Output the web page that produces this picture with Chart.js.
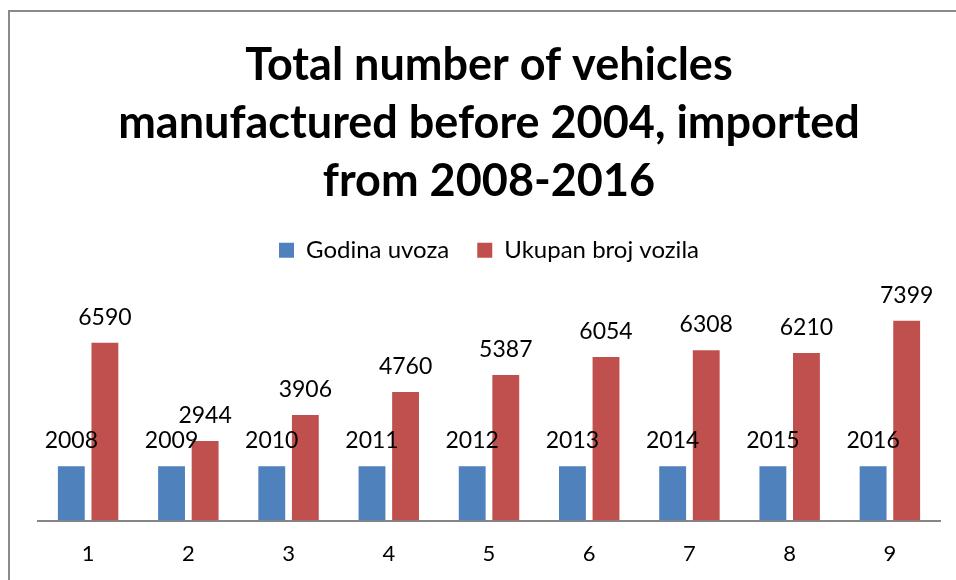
<!DOCTYPE html>
<html>
<head>
<meta charset="utf-8">
<script src="https://cdn.jsdelivr.net/npm/chart.js@4.4.1/dist/chart.umd.min.js"></script>
<style>
  html, body { margin: 0; padding: 0; background: #fff; }
  body { width: 956px; height: 580px; overflow: hidden; position: relative; }
  .frame {
    position: absolute; left: 8px; top: 10px; width: 1000px; height: 640px;
    border-left: 2px solid #8a8a8a; border-top: 2px solid #8a8a8a;
  }
  #wrap { position: absolute; left: 0; top: 0; width: 956px; height: 580px; }
</style>
</head>
<body>
<div class="frame"></div>
<div id="wrap"><canvas id="vehChart"></canvas></div>
<script>
const categories = ['1', '2', '3', '4', '5', '6', '7', '8', '9'];
const godinaUvoza = [2008, 2009, 2010, 2011, 2012, 2013, 2014, 2015, 2016];
const ukupanBroj = [6590, 2944, 3906, 4760, 5387, 6054, 6308, 6210, 7399];

const FONT = 'Lato, "Open Sans", sans-serif';

// value labels above every bar, positioned from the bar elements
const barLabels = {
    id: 'barLabels',
    afterDatasetsDraw(chart) {
        const ctx = chart.ctx;
        ctx.save();
        ctx.font = '23px ' + FONT;
        ctx.fillStyle = '#000';
        ctx.textAlign = 'center';
        ctx.textBaseline = 'alphabetic';
        chart.data.datasets.forEach((ds, i) => {
            chart.getDatasetMeta(i).data.forEach((bar, j) => {
                ctx.fillText(String(ds.data[j]), bar.x, bar.y - 18);
            });
        });
        ctx.restore();
    }
};

const ctx = document.getElementById('vehChart').getContext('2d');

const vehChart = new Chart(ctx, {
    type: 'bar',
    data: {
        labels: categories,
        datasets: [{
            label: 'Godina uvoza',
            data: godinaUvoza,
            backgroundColor: '#4F81BD',
            barPercentage: 0.8,
            categoryPercentage: 0.67
        }, {
            label: 'Ukupan broj vozila',
            data: ukupanBroj,
            backgroundColor: '#C0504D',
            barPercentage: 0.8,
            categoryPercentage: 0.67
        }]
    },
    options: {
        responsive: true,
        maintainAspectRatio: false,
        animation: false,
        layout: {
            padding: { left: 38, right: 16, top: 0, bottom: -7 }
        },
        plugins: {
            title: {
                display: true,
                text: ['Total number of vehicles', 'manufactured before 2004, imported', 'from 2008-2016'],
                color: '#000',
                font: { family: FONT, size: 45, weight: 'bold', lineHeight: 1.29 },
                padding: { top: 36, bottom: 0 }
            },
            legend: {
                position: 'top',
                labels: {
                    color: '#000',
                    font: { family: FONT, size: 24 },
                    boxWidth: 15,
                    boxHeight: 15,
                    padding: 28
                }
            },
            tooltip: { enabled: false }
        },
        scales: {
            x: {
                grid: { display: false, drawTicks: false },
                border: { display: true, color: '#868686', width: 2 },
                ticks: { color: '#000', font: { family: FONT, size: 22 }, padding: 20 }
            },
            y: {
                display: false,
                min: 0,
                // headroom above the tallest bar for its label
                max: 9200
            }
        }
    },
    plugins: [barLabels]
});
</script>
</body>
</html>
